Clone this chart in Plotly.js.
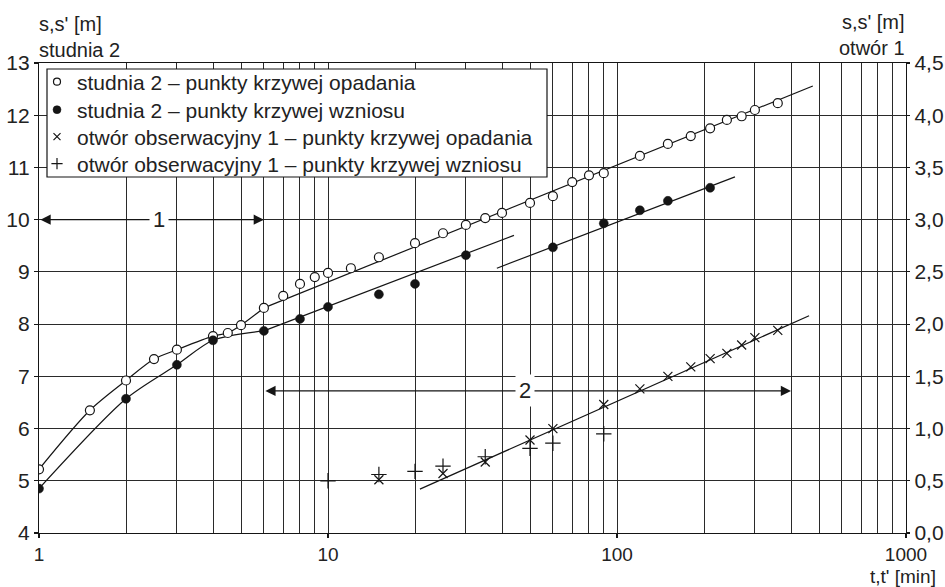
<!DOCTYPE html>
<html>
<head>
<meta charset="utf-8">
<script src="https://cdn.plot.ly/plotly-3.0.1.min.js"></script>
<style>html,body{margin:0;padding:0;background:#fff}#chart{width:945px;height:587px}</style>
</head>
<body>
<div id="chart"></div>
<script>
// ---- data ----
// studnia 2 – punkty krzywej opadania (left axis)
const xStudniaOpad = [1,1.5,2,2.5,3,4,4.5,5,6,7,8,9,10,12,15,20,25,30,35,40,50,60,70,80,90,120,150,180,210,240,270,300,360];
const yStudniaOpad = [5.22,6.35,6.92,7.33,7.51,7.77,7.83,7.98,8.31,8.54,8.77,8.90,8.98,9.07,9.28,9.55,9.74,9.90,10.03,10.13,10.32,10.45,10.72,10.85,10.89,11.22,11.45,11.60,11.75,11.91,11.98,12.10,12.23];
// studnia 2 – punkty krzywej wzniosu (left axis)
const xStudniaWzn = [1,2,3,4,6,8,10,15,20,30,60,90,120,150,210];
const yStudniaWzn = [4.85,6.57,7.22,7.69,7.87,8.10,8.33,8.57,8.77,9.32,9.47,9.93,10.18,10.36,10.61];
// otwór obserwacyjny 1 – punkty krzywej opadania (right axis)
const xOtworOpad = [15,25,35,50,60,90,120,150,180,210,240,270,300,360];
const yOtworOpad = [0.51,0.57,0.68,0.89,1.00,1.23,1.38,1.50,1.59,1.67,1.72,1.80,1.87,1.94];
// otwór obserwacyjny 1 – punkty krzywej wzniosu (right axis)
const xOtworWzn = [10,15,20,25,35,50,60,90];
const yOtworWzn = [0.50,0.56,0.59,0.64,0.73,0.81,0.86,0.95];

// fitted straight lines (end points, data units)
const fitOpadX = [6,476];      const fitOpadY = [8.31,12.56];
const fitWzn1X = [6,44];       const fitWzn1Y = [7.87,9.70];
const fitWzn2X = [38.4,256];   const fitWzn2Y = [9.07,10.82];
const fitOtworX = [20.8,462];  const fitOtworY = [0.42,2.08];
const curveLimit = 6; // early part drawn as smooth curve through the points

// ranges "1" and "2"
const range1X = [1,6];   const range1Y = 10;   const range1LabelX = 2.6;
const range2X = [6,400]; const range2Y = 6.72; const range2LabelX = 48;

// ticks
const xTickVals = [1,10,100,1000];
const xTickText = ['1','10','100','1000'];
const xMinorVals = [2,3,4,5,6,7,8,9,20,30,40,50,60,70,80,90,200,300,400,500,600,700,800,900];
const leftTickVals = [4,5,6,7,8,9,10,11,12,13];
const rightTickVals = [0,0.5,1,1.5,2,2.5,3,3.5,4,4.5];
const rightTickText = ['0,0','0,5','1,0','1,5','2,0','2,5','3,0','3,5','4,0','4,5'];

const names = [
  'studnia 2 – punkty krzywej opadania',
  'studnia 2 – punkty krzywej wzniosu',
  'otwór obserwacyjny 1 – punkty krzywej opadania',
  'otwór obserwacyjny 1 – punkty krzywej wzniosu'
];

// ---- chart ----
const INK = '#151515';
const GRID = '#2a2a2a';
const FONT = 'Liberation Sans, Arial, Helvetica, sans-serif';
const FS = 21;
const lineStyle = {color: INK, width: 1.2};

function early(xs, ys) {
  const ex = [], ey = [];
  xs.forEach((v, i) => { if (v <= curveLimit) { ex.push(v); ey.push(ys[i]); } });
  return [ex, ey];
}
const [eOx, eOy] = early(xStudniaOpad, yStudniaOpad);
const [eWx, eWy] = early(xStudniaWzn, yStudniaWzn);

const mOpen   = {symbol: 'circle', size: 9, color: '#fff', line: {color: INK, width: 1.2}};
const mFilled = {symbol: 'circle', size: 9, color: INK, line: {color: INK, width: 0.5}};
const mX      = {symbol: 'x-thin', size: 9, color: INK, line: {color: INK, width: 1.2}};
const mPlus   = {symbol: 'cross-thin', size: 11, color: INK, line: {color: INK, width: 1.2}};
const small = (m, s) => Object.assign({}, m, {size: s});

const traces = [
  {x: eOx, y: eOy, mode: 'lines', line: Object.assign({shape: 'spline', smoothing: 0.8}, lineStyle), showlegend: false},
  {x: eWx, y: eWy, mode: 'lines', line: Object.assign({shape: 'spline', smoothing: 0.8}, lineStyle), showlegend: false},
  {x: fitOpadX, y: fitOpadY, mode: 'lines', line: lineStyle, showlegend: false},
  {x: fitWzn1X, y: fitWzn1Y, mode: 'lines', line: lineStyle, showlegend: false},
  {x: fitWzn2X, y: fitWzn2Y, mode: 'lines', line: lineStyle, showlegend: false},
  {x: fitOtworX, y: fitOtworY, yaxis: 'y2', mode: 'lines', line: lineStyle, showlegend: false},
  {x: xStudniaOpad, y: yStudniaOpad, name: names[0], mode: 'markers', marker: mOpen, showlegend: false},
  {x: xStudniaWzn, y: yStudniaWzn, name: names[1], mode: 'markers', marker: mFilled, showlegend: false},
  {x: xOtworOpad, y: yOtworOpad, name: names[2], yaxis: 'y2', mode: 'markers', marker: mX, showlegend: false},
  {x: xOtworWzn, y: yOtworWzn, name: names[3], yaxis: 'y2', mode: 'markers', marker: mPlus, showlegend: false},
  // legend entries (one legend per row so rows can be spaced like the reference)
  {x: [null], y: [null], name: names[0], mode: 'markers', marker: small(mOpen, 7), legend: 'legend'},
  {x: [null], y: [null], name: names[1], mode: 'markers', marker: small(mFilled, 8), legend: 'legend2'},
  {x: [null], y: [null], name: names[2], mode: 'markers', marker: small(mX, 7), legend: 'legend3'},
  {x: [null], y: [null], name: names[3], mode: 'markers', marker: small(mPlus, 8), legend: 'legend4'}
];

// plot area in pixels: x 39..906, y 63..533
const L = 39, R = 906, T = 63, B = 533;
const px = v => (v - L) / (R - L);
const py = v => (B - v) / (B - T);

const txt = {family: FONT, size: 20, color: '#222'};
const lg = Math.log10;

const annotations = [
  {xref: 'x', yref: 'y', axref: 'x', ayref: 'y', x: lg(range1X[1]), y: range1Y, ax: lg(range1X[0]), ay: range1Y,
   text: '', showarrow: true, arrowhead: 2, startarrowhead: 2, arrowside: 'end+start', arrowsize: 1.7, arrowwidth: 1.2,
   arrowcolor: INK, standoff: 0, startstandoff: 0},
  {xref: 'x', yref: 'y', x: lg(range1LabelX), y: range1Y, text: '1', showarrow: false, bgcolor: '#fff', borderpad: 3,
   font: {family: FONT, size: 22, color: '#222'}},
  {xref: 'x', yref: 'y', axref: 'x', ayref: 'y', x: lg(range2X[1]), y: range2Y, ax: lg(range2X[0]), ay: range2Y,
   text: '', showarrow: true, arrowhead: 2, startarrowhead: 2, arrowside: 'end+start', arrowsize: 1.7, arrowwidth: 1.2,
   arrowcolor: INK, standoff: 0, startstandoff: 0},
  {xref: 'x', yref: 'y', x: lg(range2LabelX), y: range2Y, text: '2', showarrow: false, bgcolor: '#fff', borderpad: 3,
   font: {family: FONT, size: 22, color: '#222'}},
  {xref: 'paper', yref: 'paper', x: px(38), y: py(37), xanchor: 'left', yanchor: 'middle', align: 'left',
   text: "s,s' [m]<br>studnia 2", showarrow: false, font: txt, borderpad: 0},
  {xref: 'paper', yref: 'paper', x: px(906), y: py(35), xanchor: 'right', yanchor: 'middle', align: 'right',
   text: "s,s' [m]<br>otwór 1", showarrow: false, font: txt, borderpad: 0},
  {xref: 'paper', yref: 'paper', x: px(937), y: py(576), xanchor: 'right', yanchor: 'middle', text: "t,t' [min]",
   showarrow: false, font: {family: FONT, size: 19, color: '#222'}, borderpad: 0}
];

const shapes = [
  {type: 'rect', xref: 'paper', yref: 'paper', x0: px(47), x1: px(547), y0: py(177), y1: py(69),
   fillcolor: '#fff', line: {color: INK, width: 1.2}, layer: 'above'}
];

const legendRow = cy => ({x: px(37), y: py(cy), xanchor: 'left', yanchor: 'middle', bgcolor: 'rgba(0,0,0,0)', borderwidth: 0,
  font: {family: FONT, size: FS, color: '#222'}});

const tickFont = {family: FONT, size: FS, color: '#222'};
const layout = {
  width: 945, height: 587,
  margin: {l: L, r: 945 - R, t: T, b: 587 - B, pad: 0},
  paper_bgcolor: '#fff', plot_bgcolor: '#fff',
  separators: ', ',
  font: {family: FONT, size: FS, color: '#222'},
  showlegend: true,
  legend: legendRow(82),
  legend2: legendRow(110),
  legend3: legendRow(137),
  legend4: legendRow(164),
  xaxis: {type: 'log', range: [0, 3], tickmode: 'array', tickvals: xTickVals, ticktext: xTickText,
          ticks: 'outside', ticklen: 4, tickwidth: 1.2, tickcolor: INK,
          showline: true, linecolor: INK, linewidth: 1.2, mirror: true,
          showgrid: true, gridcolor: GRID, gridwidth: 1, zeroline: false,
          minor: {tickmode: 'array', tickvals: xMinorVals, showgrid: true, gridcolor: GRID, gridwidth: 1, ticks: ''},
          tickfont: {family: FONT, size: 19, color: '#222'}},
  yaxis: {range: [4, 13], tickmode: 'array', tickvals: leftTickVals,
          ticks: 'outside', ticklen: 4, tickwidth: 1.2, tickcolor: INK,
          showline: true, linecolor: INK, linewidth: 1.2, mirror: true,
          showgrid: true, gridcolor: GRID, gridwidth: 1, zeroline: false,
          tickfont: tickFont},
  yaxis2: {overlaying: 'y', side: 'right', range: [0, 4.5], tickmode: 'array', tickvals: rightTickVals, ticktext: rightTickText,
           ticks: 'outside', ticklen: 3, tickwidth: 1.2, tickcolor: INK,
           showline: true, linecolor: INK, linewidth: 1.2, showgrid: false, zeroline: false,
           tickfont: tickFont},
  annotations: annotations,
  shapes: shapes,
  hovermode: false
};

Plotly.newPlot('chart', traces, layout, {displayModeBar: false, staticPlot: true});
</script>
</body>
</html>
